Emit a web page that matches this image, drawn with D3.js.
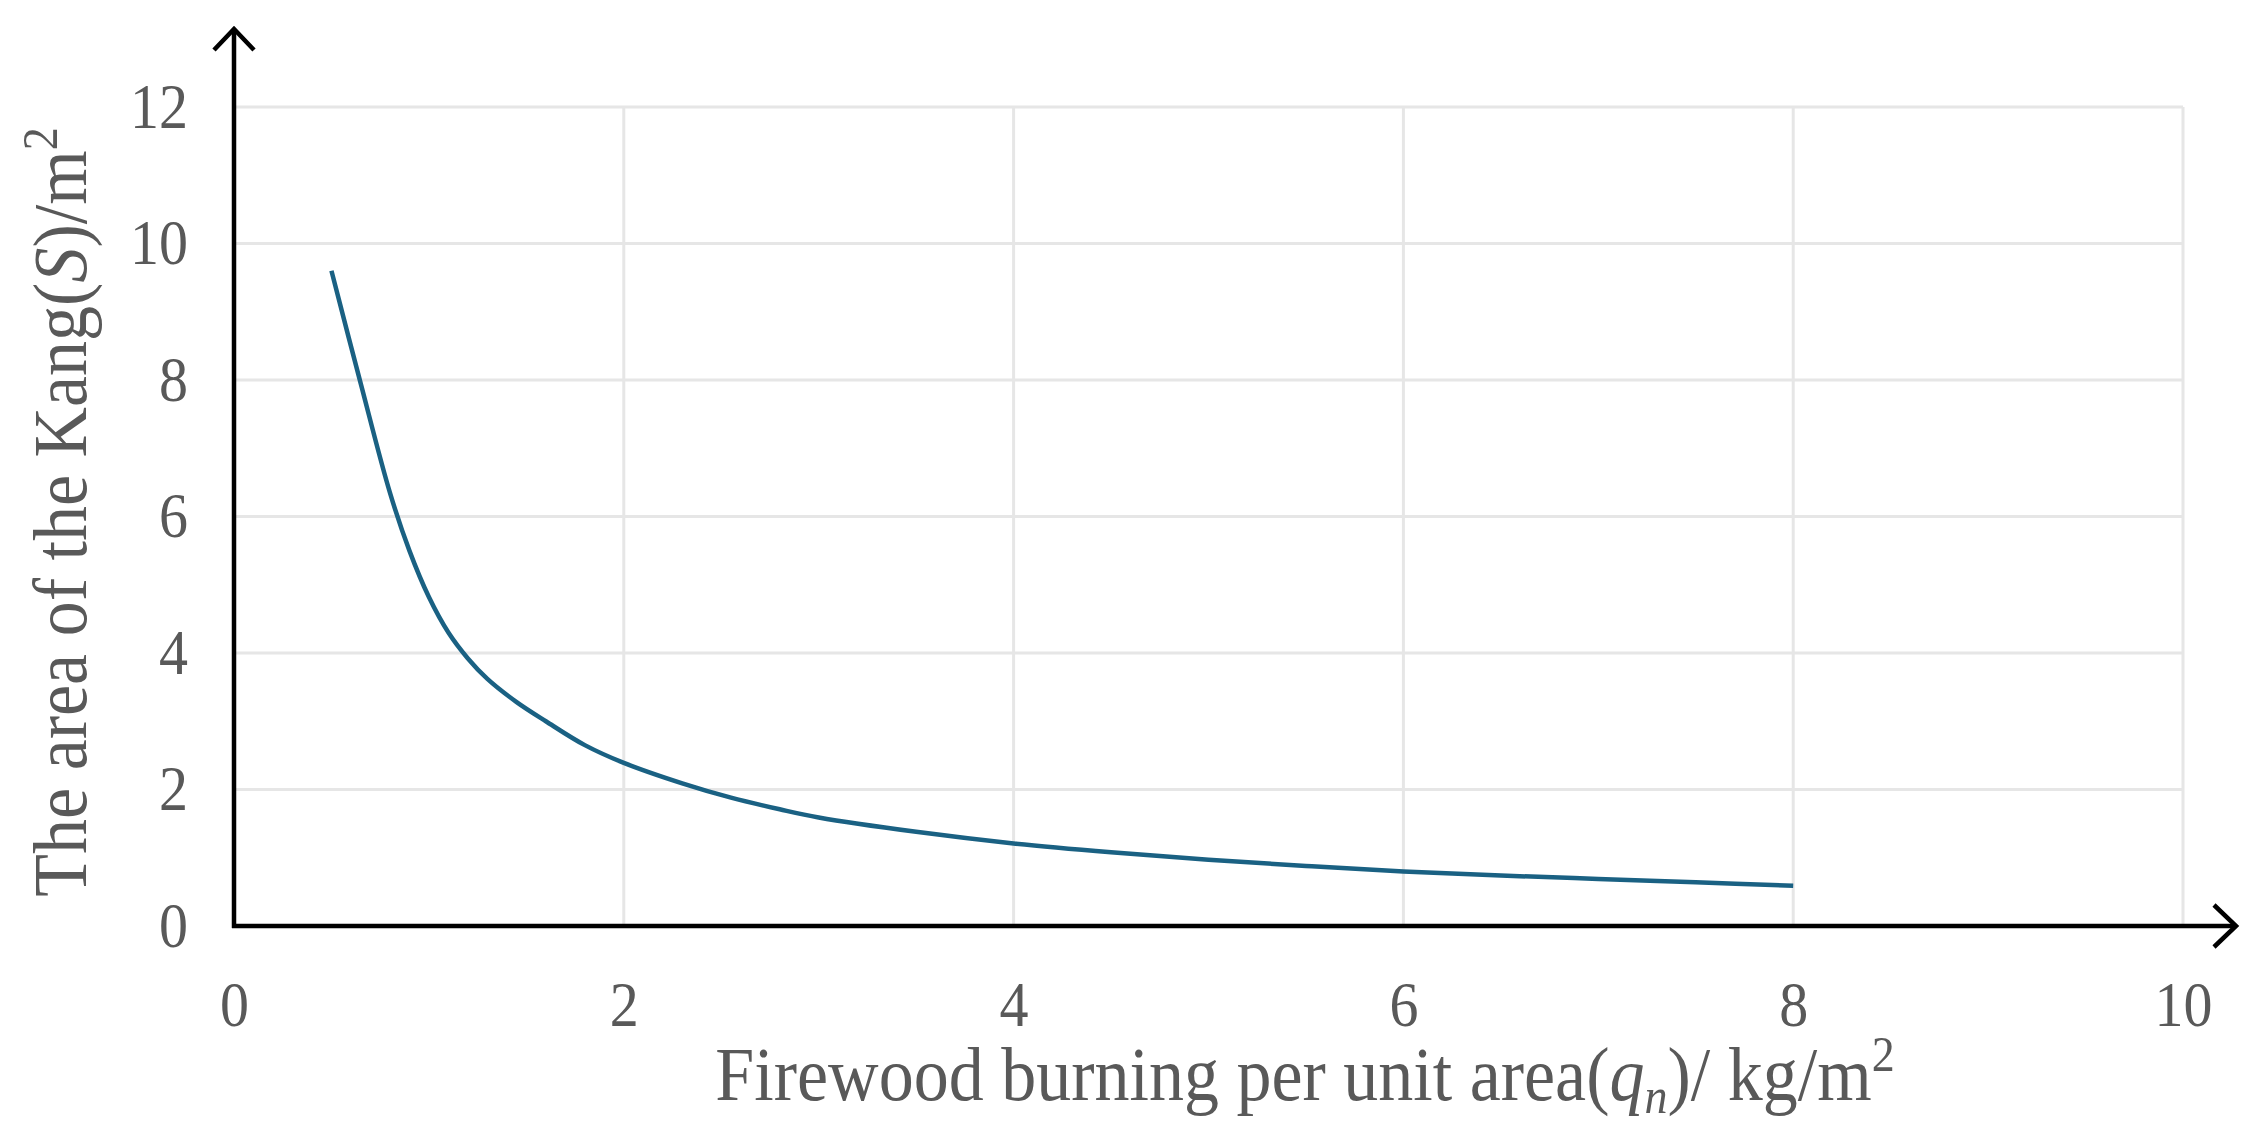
<!DOCTYPE html>
<html>
<head>
<meta charset="utf-8">
<script src="https://cdn.jsdelivr.net/npm/d3@7"></script>
<style>
  html, body { margin: 0; padding: 0; background: #fff; }
  svg { display: block; }
  text { font-family: "Liberation Serif", "Times New Roman", serif; fill: #595959; }
</style>
</head>
<body>
<svg id="chart" width="2262" height="1135"></svg>
<script>
// Data
const qValues = [0.5, 0.65, 0.8, 0.9, 1.0, 1.1, 1.2, 1.3, 1.45, 1.6, 1.8, 2.0, 2.3, 2.55, 2.8, 3.0, 3.5, 4.0, 4.5, 5.0, 5.5, 6.0, 6.5, 7.0, 7.5, 8.0];
const sValues = [9.6, 7.95, 6.35, 5.5, 4.82, 4.3, 3.92, 3.62, 3.28, 3.0, 2.65, 2.39, 2.09, 1.88, 1.71, 1.59, 1.38, 1.21, 1.08, 0.97, 0.88, 0.80, 0.74, 0.69, 0.64, 0.59];
const xTicks = [0, 2, 4, 6, 8, 10];
const yTicks = [0, 2, 4, 6, 8, 10, 12];

const svg = d3.select("#chart");
const x = d3.scaleLinear().domain([0, 10]).range([234, 2183]);
const y = d3.scaleLinear().domain([0, 12]).range([926, 107]);

// Grid
const grid = svg.append("g").attr("stroke", "#e6e6e6").attr("stroke-width", 3);
grid.selectAll("line.h").data(yTicks).join("line")
  .attr("x1", x(0)).attr("x2", x(10))
  .attr("y1", d => y(d)).attr("y2", d => y(d));
grid.selectAll("line.v").data(xTicks).join("line")
  .attr("x1", d => x(d)).attr("x2", d => x(d))
  .attr("y1", y(12)).attr("y2", y(0));

// Axis tick labels via d3 axes
const yAxis = svg.append("g").attr("transform", `translate(${x(0)},0)`)
  .call(d3.axisLeft(y).tickValues(yTicks).tickSize(0).tickPadding(46).tickFormat(d3.format("d")));
yAxis.select(".domain").remove();
yAxis.selectAll("text").attr("font-size", 58).attr("font-family", "Liberation Serif").attr("fill", "#595959")
  .attr("transform", "scale(1,1.1)");

const xAxis = svg.append("g").attr("transform", `translate(0,${y(0)})`)
  .call(d3.axisBottom(x).tickValues(xTicks).tickSize(0).tickPadding(50).tickFormat(d3.format("d")));
xAxis.select(".domain").remove();
xAxis.selectAll("text").attr("font-size", 58).attr("font-family", "Liberation Serif").attr("fill", "#595959")
  .attr("transform", "scale(1,1.1)");

// Curve
const line = d3.line().x((d, i) => x(qValues[i])).y(d => y(d)).curve(d3.curveCatmullRom.alpha(0.5));
svg.append("path").datum(sValues)
  .attr("d", line)
  .attr("fill", "none")
  .attr("stroke", "#1a6183")
  .attr("stroke-width", 4.5)
  .attr("stroke-linecap", "butt");

// Axis lines with arrows
const ax = svg.append("g").attr("stroke", "#000").attr("stroke-width", 4.5).attr("fill", "none");
ax.append("line").attr("x1", x(0)).attr("x2", x(0)).attr("y1", y(0) + 2).attr("y2", 29);
ax.append("polyline").attr("points", `${x(0) - 20},50 ${x(0)},29 ${x(0) + 20},50`).attr("stroke-linejoin", "miter");
ax.append("line").attr("x1", x(0) - 2).attr("x2", 2236).attr("y1", y(0)).attr("y2", y(0));
ax.append("polyline").attr("points", `2214,${y(0) - 21} 2236,${y(0)} 2214,${y(0) + 21}`).attr("stroke-linejoin", "miter");

// X title
const xt = svg.append("text").attr("transform", "translate(1305,1100) scale(1,1.1)").attr("text-anchor", "middle").attr("font-size", 70);
xt.append("tspan").text("Firewood burning per unit area(");
xt.append("tspan").attr("font-style", "italic").text("q");
xt.append("tspan").attr("font-style", "italic").attr("font-size", 46).attr("dy", 12).text("n");
xt.append("tspan").attr("dy", -12).text(")/ kg/m");
xt.append("tspan").attr("font-size", 46).attr("dy", -26).text("2");

// Y title
const yt = svg.append("text").attr("transform", "translate(86,512) rotate(-90) scale(1,1.1)").attr("text-anchor", "middle").attr("font-size", 70);
yt.append("tspan").text("The area of the Kang(");
yt.append("tspan").attr("font-style", "italic").text("S");
yt.append("tspan").text(")/m");
yt.append("tspan").attr("font-size", 46).attr("dy", -26).text("2");
</script>
</body>
</html>
